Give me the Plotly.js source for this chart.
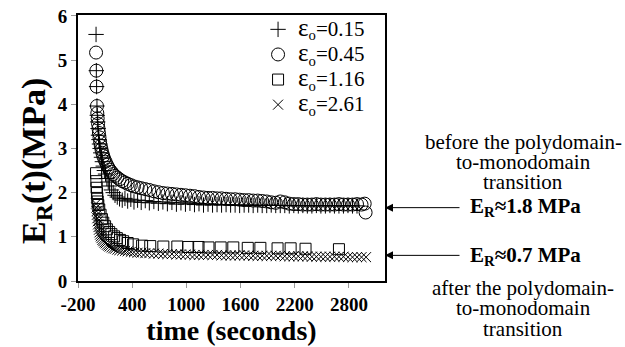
<!DOCTYPE html>
<html>
<head>
<meta charset="utf-8">
<script src="https://cdn.plot.ly/plotly-3.0.1.min.js"></script>
<style>html,body{margin:0;padding:0;background:#fff;}#chart{width:625px;height:347px;}</style>
</head>
<body>
<div id="chart"></div>
<script>
// ---- data ----
const names = ["0.15", "0.45", "1.16", "2.61"];

const t015 = [0, 3, 6, 10, 14, 18, 22, 27, 32, 38, 45, 52, 60, 70, 80, 92, 105, 120, 135, 150, 170, 190, 210, 235, 260, 290, 320, 350, 385, 420, 460, 500, 545, 590, 640, 690, 740, 790, 840, 890, 940, 990, 1040, 1090, 1140, 1190, 1240, 1290, 1340, 1390, 1440, 1490, 1540, 1590, 1640, 1690, 1740, 1790, 1840, 1890, 1940, 1990, 2040, 2090, 2140, 2190, 2240, 2290, 2340, 2390, 2440, 2490, 2540, 2590, 2640, 2690, 2740, 2790, 2840, 2890];
const e015 = [5.58, 4.76, 4.40, 3.96, 3.75, 3.60, 3.45, 3.30, 3.20, 3.10, 3.00, 2.90, 2.80, 2.70, 2.60, 2.50, 2.42, 2.32, 2.24, 2.15, 2.06, 2.00, 1.94, 1.90, 1.86, 1.83, 1.87, 1.81, 1.85, 1.79, 1.83, 1.78, 1.82, 1.77, 1.80, 1.76, 1.79, 1.75, 1.78, 1.74, 1.77, 1.74, 1.76, 1.73, 1.75, 1.72, 1.74, 1.72, 1.73, 1.72, 1.73, 1.72, 1.72, 1.71, 1.72, 1.72, 1.71, 1.72, 1.71, 1.71, 1.72, 1.71, 1.71, 1.71, 1.70, 1.71, 1.70, 1.71, 1.70, 1.70, 1.71, 1.70, 1.70, 1.71, 1.70, 1.70, 1.70, 1.71, 1.70, 1.70];

const t045 = [0, 3, 6, 10, 14, 18, 22, 27, 32, 38, 45, 52, 60, 70, 80, 92, 105, 120, 135, 150, 170, 190, 210, 235, 260, 290, 320, 350, 385, 420, 460, 500, 545, 590, 640, 690, 740, 790, 840, 890, 940, 990, 1040, 1090, 1140, 1190, 1240, 1290, 1340, 1390, 1440, 1490, 1540, 1590, 1640, 1690, 1740, 1790, 1840, 1890, 1940, 1990, 2040, 2090, 2140, 2190, 2240, 2290, 2340, 2390, 2440, 2490, 2540, 2590, 2640, 2690, 2740, 2790, 2840, 2890, 2940, 2975, 2985];
const e045 = [5.17, 4.76, 4.40, 3.96, 3.80, 3.68, 3.56, 3.45, 3.35, 3.25, 3.15, 3.06, 2.98, 2.90, 2.83, 2.76, 2.70, 2.63, 2.57, 2.52, 2.47, 2.42, 2.38, 2.34, 2.30, 2.26, 2.23, 2.20, 2.17, 2.14, 2.12, 2.10, 2.08, 2.06, 2.03, 2.01, 1.99, 1.98, 1.97, 1.96, 1.95, 1.94, 1.93, 1.92, 1.90, 1.89, 1.88, 1.88, 1.87, 1.87, 1.86, 1.85, 1.85, 1.84, 1.83, 1.83, 1.82, 1.82, 1.81, 1.80, 1.78, 1.77, 1.80, 1.78, 1.75, 1.74, 1.74, 1.73, 1.73, 1.73, 1.74, 1.73, 1.73, 1.73, 1.73, 1.74, 1.73, 1.73, 1.73, 1.74, 1.73, 1.75, 1.55];

const t116 = [0, 3, 6, 10, 14, 18, 25, 35, 50, 65, 80, 100, 120, 145, 170, 200, 230, 265, 300, 350, 410, 510, 600, 745, 900, 1020, 1135, 1245, 1380, 1520, 1680, 1820, 2010, 2155, 2320, 2690];
const e116 = [2.44, 2.26, 2.11, 1.99, 1.88, 1.80, 1.72, 1.62, 1.50, 1.40, 1.32, 1.24, 1.17, 1.11, 1.06, 1.01, 0.97, 0.93, 0.90, 0.86, 0.83, 0.80, 0.79, 0.78, 0.78, 0.77, 0.77, 0.76, 0.76, 0.76, 0.75, 0.75, 0.74, 0.74, 0.73, 0.72];

const t261 = [0, 3, 6, 10, 14, 18, 22, 27, 32, 38, 45, 52, 60, 70, 80, 92, 105, 120, 135, 150, 170, 190, 210, 235, 260, 290, 320, 350, 385, 420, 460, 500, 545, 590, 640, 690, 740, 790, 840, 890, 940, 990, 1040, 1090, 1140, 1190, 1240, 1290, 1340, 1390, 1440, 1490, 1540, 1590, 1640, 1690, 1740, 1790, 1840, 1890, 1940, 1990, 2040, 2090, 2140, 2190, 2240, 2290, 2340, 2390, 2440, 2490, 2540, 2590, 2640, 2690, 2740, 2790, 2840, 2890, 2940, 2990];
const e261 = [1.75, 1.66, 1.58, 1.50, 1.42, 1.35, 1.28, 1.22, 1.16, 1.10, 1.05, 1.01, 0.97, 0.93, 0.90, 0.87, 0.85, 0.82, 0.80, 0.78, 0.76, 0.74, 0.73, 0.71, 0.70, 0.69, 0.68, 0.67, 0.66, 0.65, 0.64, 0.64, 0.63, 0.63, 0.62, 0.62, 0.61, 0.61, 0.61, 0.60, 0.60, 0.60, 0.60, 0.59, 0.59, 0.59, 0.59, 0.59, 0.59, 0.58, 0.58, 0.58, 0.58, 0.58, 0.58, 0.58, 0.57, 0.57, 0.57, 0.57, 0.57, 0.57, 0.57, 0.56, 0.56, 0.56, 0.56, 0.56, 0.56, 0.55, 0.55, 0.55, 0.55, 0.55, 0.55, 0.55, 0.55, 0.54, 0.54, 0.54, 0.54, 0.54];

const xTicks = [-200, 400, 1000, 1600, 2200, 2800];
const yTicks = [0, 1, 2, 3, 4, 5, 6];
const arrowLevels = [1.66, 0.58];
const levelLabels = ["E<sub>R</sub>≈1.8 MPa", "E<sub>R</sub>≈0.7 MPa"];
const beforeLines = ["before the polydomain-", "to-monodomain", "transition"];
const afterLines = ["after the polydomain-", "to-monodomain", "transition"];

// ---- drawing ----
const SERIF = "'Liberation Serif', 'Times New Roman', Times, serif";
function mk(symbol, size) {
  return {symbol: symbol, size: size, color: "black", line: {color: "black", width: 1}};
}
function legendName(v) {
  return '<span style="font-size:21px"><span style="font-size:25px">ε</span><sub>o</sub>=' + v + '</span>';
}
const traces = [
  {x: t015, y: e015, name: legendName(names[0]), mode: "markers", type: "scatter", marker: mk("cross-thin-open", 11)},
  {x: t045, y: e045, name: legendName(names[1]), mode: "markers", type: "scatter", marker: mk("circle-open", 13)},
  {x: t116, y: e116, name: legendName(names[2]), mode: "markers", type: "scatter", marker: mk("square-open", 11)},
  {x: t261, y: e261, name: legendName(names[3]), mode: "markers", type: "scatter", marker: mk("x-thin-open", 10)}
];

const axisCommon = {
  showline: true, linecolor: "black", linewidth: 2, mirror: true,
  showgrid: false, zeroline: false,
  ticks: "outside", ticklen: 5, tickcolor: "#999", tickwidth: 1,
  tickfont: {family: SERIF, size: 19, color: "black", weight: "bold"}
};

const annotations = [];
arrowLevels.forEach(function (lv) {
  annotations.push({xref: "paper", yref: "y", x: 1, y: lv, text: "", showarrow: true,
    axref: "pixel", ayref: "pixel", ax: 76, ay: 0,
    arrowhead: 2, arrowsize: 1.6, arrowwidth: 1, arrowcolor: "black"});
});
const labelY = [207, 256];
levelLabels.forEach(function (s, i) {
  annotations.push({xref: "paper", yref: "paper", x: (525 - 78) / 307, y: (281 - labelY[i]) / 266,
    text: "<b>" + s + "</b>", showarrow: false, xanchor: "center", yanchor: "middle",
    font: {family: SERIF, size: 21, color: "black"}});
});
const beforeY = [142, 162, 182];
beforeLines.forEach(function (s, i) {
  annotations.push({xref: "paper", yref: "paper", x: (523 - 78) / 307, y: (281 - beforeY[i]) / 266,
    text: s, showarrow: false, xanchor: "center", yanchor: "middle",
    font: {family: SERIF, size: 21, color: "black"}});
});
const afterY = [288, 308, 329];
afterLines.forEach(function (s, i) {
  annotations.push({xref: "paper", yref: "paper", x: (523 - 78) / 307, y: (281 - afterY[i]) / 266,
    text: s, showarrow: false, xanchor: "center", yanchor: "middle",
    font: {family: SERIF, size: 21, color: "black"}});
});

const layout = {
  width: 625, height: 347,
  margin: {l: 78, r: 240, t: 15, b: 66, pad: 0},
  paper_bgcolor: "white", plot_bgcolor: "white",
  font: {family: SERIF, color: "black"},
  showlegend: true,
  legend: {x: 0.5865, y: 1.012, xanchor: "left", yanchor: "top",
    bgcolor: "rgba(0,0,0,0)", borderwidth: 0,
    font: {family: SERIF, size: 17, color: "black"}, itemsizing: "trace"},
  xaxis: Object.assign({}, axisCommon, {
    range: [-200, 3200], tickmode: "array", tickvals: xTicks, ticktext: xTicks.map(String),
    title: {text: "<b>time (seconds)</b>", font: {family: SERIF, size: 28, color: "black"}, standoff: 5}
  }),
  yaxis: Object.assign({}, axisCommon, {
    range: [0, 6.02], tickmode: "array", tickvals: yTicks, ticktext: yTicks.map(String),
    title: {text: "<b>E<sub>R</sub>(t)(MPa)&nbsp;&nbsp;&nbsp;</b>", font: {family: SERIF, size: 34, color: "black"}, standoff: 2}
  }),
  annotations: annotations
};

Plotly.newPlot("chart", traces, layout, {staticPlot: true, displayModeBar: false});
</script>
</body>
</html>
